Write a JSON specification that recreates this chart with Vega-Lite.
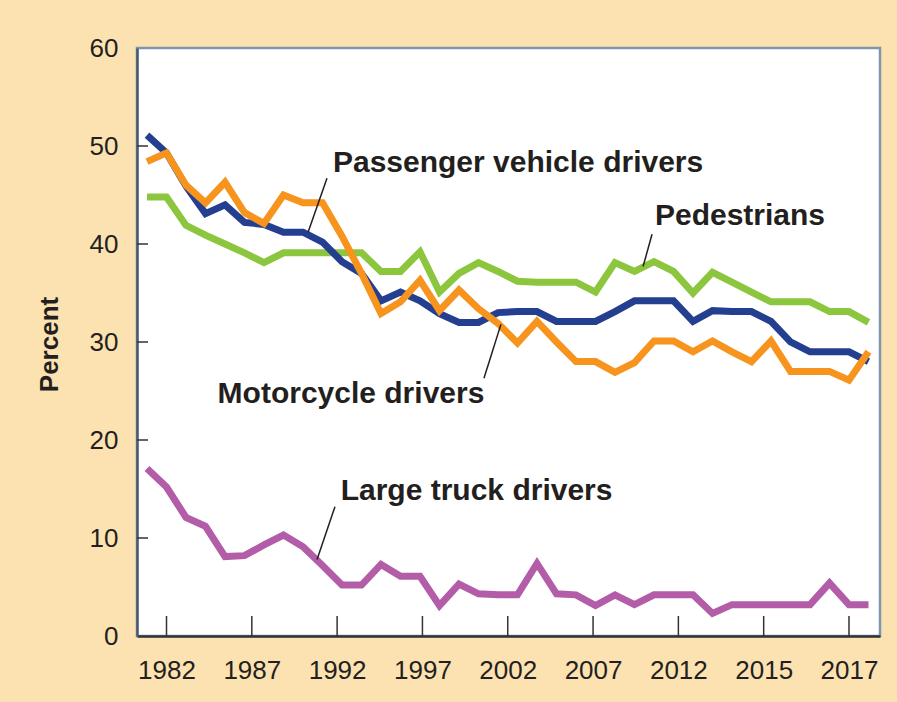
{
  "$schema": "https://vega.github.io/schema/vega-lite/v6.json",
  "description": "Percent of fatally injured drivers and pedestrians with high BAC, 1981-2018.",
  "width": 743,
  "height": 588,
  "autosize": {"type": "none"},
  "padding": {"left": 137, "top": 48, "right": 17, "bottom": 66},
  "background": "#FCE2B0",
  "config": {
    "view": {"fill": "white", "stroke": "#7E97B0", "strokeWidth": 2.5},
    "font": "Liberation Sans"
  },
  "layer": [
    {
      "data": {"values": [{"t": 1982}, {"t": 1986.375}, {"t": 1990.75}, {"t": 1995.125}, {"t": 1999.5}, {"t": 2003.875}, {"t": 2008.25}, {"t": 2012.625}, {"t": 2017}]},
      "mark": {"type": "rule", "color": "#333333", "strokeWidth": 1.5},
      "encoding": {
        "x": {"field": "t", "type": "quantitative", "title": null},
        "y": {"datum": 0, "type": "quantitative"},
        "y2": {"datum": 2.04}
      }
    },
    {
      "data": {"values": [{"v": 10}, {"v": 20}, {"v": 30}, {"v": 40}, {"v": 50}]},
      "mark": {"type": "rule", "color": "#333333", "strokeWidth": 1.5},
      "encoding": {
        "y": {"field": "v", "type": "quantitative", "title": "Percent"},
        "x": {"datum": 1980.487, "type": "quantitative"},
        "x2": {"datum": 1981.05}
      }
    },
    {
      "data": {
        "values": [
          {"year": 1981, "group": "Pedestrians", "pct": 44.8},
          {"year": 1982, "group": "Pedestrians", "pct": 44.8},
          {"year": 1983, "group": "Pedestrians", "pct": 41.9},
          {"year": 1984, "group": "Pedestrians", "pct": 40.9},
          {"year": 1985, "group": "Pedestrians", "pct": 40.0},
          {"year": 1986, "group": "Pedestrians", "pct": 39.1},
          {"year": 1987, "group": "Pedestrians", "pct": 38.1},
          {"year": 1988, "group": "Pedestrians", "pct": 39.1},
          {"year": 1989, "group": "Pedestrians", "pct": 39.1},
          {"year": 1990, "group": "Pedestrians", "pct": 39.1},
          {"year": 1991, "group": "Pedestrians", "pct": 39.1},
          {"year": 1992, "group": "Pedestrians", "pct": 39.1},
          {"year": 1993, "group": "Pedestrians", "pct": 37.2},
          {"year": 1994, "group": "Pedestrians", "pct": 37.2},
          {"year": 1995, "group": "Pedestrians", "pct": 39.2},
          {"year": 1996, "group": "Pedestrians", "pct": 35.1},
          {"year": 1997, "group": "Pedestrians", "pct": 37.0},
          {"year": 1998, "group": "Pedestrians", "pct": 38.1},
          {"year": 1999, "group": "Pedestrians", "pct": 37.2},
          {"year": 2000, "group": "Pedestrians", "pct": 36.2},
          {"year": 2001, "group": "Pedestrians", "pct": 36.1},
          {"year": 2002, "group": "Pedestrians", "pct": 36.1},
          {"year": 2003, "group": "Pedestrians", "pct": 36.1},
          {"year": 2004, "group": "Pedestrians", "pct": 35.1},
          {"year": 2005, "group": "Pedestrians", "pct": 38.1},
          {"year": 2006, "group": "Pedestrians", "pct": 37.2},
          {"year": 2007, "group": "Pedestrians", "pct": 38.2},
          {"year": 2008, "group": "Pedestrians", "pct": 37.2},
          {"year": 2009, "group": "Pedestrians", "pct": 35.0},
          {"year": 2010, "group": "Pedestrians", "pct": 37.1},
          {"year": 2011, "group": "Pedestrians", "pct": 36.1},
          {"year": 2012, "group": "Pedestrians", "pct": 35.1},
          {"year": 2013, "group": "Pedestrians", "pct": 34.1},
          {"year": 2014, "group": "Pedestrians", "pct": 34.1},
          {"year": 2015, "group": "Pedestrians", "pct": 34.1},
          {"year": 2016, "group": "Pedestrians", "pct": 33.1},
          {"year": 2017, "group": "Pedestrians", "pct": 33.1},
          {"year": 2018, "group": "Pedestrians", "pct": 32.0},
          {"year": 1981, "group": "Large truck drivers", "pct": 17.1},
          {"year": 1982, "group": "Large truck drivers", "pct": 15.2},
          {"year": 1983, "group": "Large truck drivers", "pct": 12.1},
          {"year": 1984, "group": "Large truck drivers", "pct": 11.2},
          {"year": 1985, "group": "Large truck drivers", "pct": 8.1},
          {"year": 1986, "group": "Large truck drivers", "pct": 8.2},
          {"year": 1987, "group": "Large truck drivers", "pct": 9.3},
          {"year": 1988, "group": "Large truck drivers", "pct": 10.3},
          {"year": 1989, "group": "Large truck drivers", "pct": 9.1},
          {"year": 1990, "group": "Large truck drivers", "pct": 7.2},
          {"year": 1991, "group": "Large truck drivers", "pct": 5.2},
          {"year": 1992, "group": "Large truck drivers", "pct": 5.2},
          {"year": 1993, "group": "Large truck drivers", "pct": 7.3},
          {"year": 1994, "group": "Large truck drivers", "pct": 6.1},
          {"year": 1995, "group": "Large truck drivers", "pct": 6.1},
          {"year": 1996, "group": "Large truck drivers", "pct": 3.1},
          {"year": 1997, "group": "Large truck drivers", "pct": 5.3},
          {"year": 1998, "group": "Large truck drivers", "pct": 4.3},
          {"year": 1999, "group": "Large truck drivers", "pct": 4.2},
          {"year": 2000, "group": "Large truck drivers", "pct": 4.2},
          {"year": 2001, "group": "Large truck drivers", "pct": 7.4},
          {"year": 2002, "group": "Large truck drivers", "pct": 4.3},
          {"year": 2003, "group": "Large truck drivers", "pct": 4.2},
          {"year": 2004, "group": "Large truck drivers", "pct": 3.1},
          {"year": 2005, "group": "Large truck drivers", "pct": 4.2},
          {"year": 2006, "group": "Large truck drivers", "pct": 3.2},
          {"year": 2007, "group": "Large truck drivers", "pct": 4.2},
          {"year": 2008, "group": "Large truck drivers", "pct": 4.2},
          {"year": 2009, "group": "Large truck drivers", "pct": 4.2},
          {"year": 2010, "group": "Large truck drivers", "pct": 2.3},
          {"year": 2011, "group": "Large truck drivers", "pct": 3.2},
          {"year": 2012, "group": "Large truck drivers", "pct": 3.2},
          {"year": 2013, "group": "Large truck drivers", "pct": 3.2},
          {"year": 2014, "group": "Large truck drivers", "pct": 3.2},
          {"year": 2015, "group": "Large truck drivers", "pct": 3.2},
          {"year": 2016, "group": "Large truck drivers", "pct": 5.4},
          {"year": 2017, "group": "Large truck drivers", "pct": 3.2},
          {"year": 2018, "group": "Large truck drivers", "pct": 3.2},
          {"year": 1981, "group": "Passenger vehicle drivers", "pct": 51.1},
          {"year": 1982, "group": "Passenger vehicle drivers", "pct": 49.3},
          {"year": 1983, "group": "Passenger vehicle drivers", "pct": 45.9},
          {"year": 1984, "group": "Passenger vehicle drivers", "pct": 43.1},
          {"year": 1985, "group": "Passenger vehicle drivers", "pct": 44.0},
          {"year": 1986, "group": "Passenger vehicle drivers", "pct": 42.2},
          {"year": 1987, "group": "Passenger vehicle drivers", "pct": 42.0},
          {"year": 1988, "group": "Passenger vehicle drivers", "pct": 41.2},
          {"year": 1989, "group": "Passenger vehicle drivers", "pct": 41.2},
          {"year": 1990, "group": "Passenger vehicle drivers", "pct": 40.2},
          {"year": 1991, "group": "Passenger vehicle drivers", "pct": 38.2},
          {"year": 1992, "group": "Passenger vehicle drivers", "pct": 37.0},
          {"year": 1993, "group": "Passenger vehicle drivers", "pct": 34.2},
          {"year": 1994, "group": "Passenger vehicle drivers", "pct": 35.1},
          {"year": 1995, "group": "Passenger vehicle drivers", "pct": 34.2},
          {"year": 1996, "group": "Passenger vehicle drivers", "pct": 32.9},
          {"year": 1997, "group": "Passenger vehicle drivers", "pct": 32.0},
          {"year": 1998, "group": "Passenger vehicle drivers", "pct": 32.0},
          {"year": 1999, "group": "Passenger vehicle drivers", "pct": 33.0},
          {"year": 2000, "group": "Passenger vehicle drivers", "pct": 33.1},
          {"year": 2001, "group": "Passenger vehicle drivers", "pct": 33.1},
          {"year": 2002, "group": "Passenger vehicle drivers", "pct": 32.1},
          {"year": 2003, "group": "Passenger vehicle drivers", "pct": 32.1},
          {"year": 2004, "group": "Passenger vehicle drivers", "pct": 32.1},
          {"year": 2005, "group": "Passenger vehicle drivers", "pct": 33.1},
          {"year": 2006, "group": "Passenger vehicle drivers", "pct": 34.2},
          {"year": 2007, "group": "Passenger vehicle drivers", "pct": 34.2},
          {"year": 2008, "group": "Passenger vehicle drivers", "pct": 34.2},
          {"year": 2009, "group": "Passenger vehicle drivers", "pct": 32.1},
          {"year": 2010, "group": "Passenger vehicle drivers", "pct": 33.2},
          {"year": 2011, "group": "Passenger vehicle drivers", "pct": 33.1},
          {"year": 2012, "group": "Passenger vehicle drivers", "pct": 33.1},
          {"year": 2013, "group": "Passenger vehicle drivers", "pct": 32.1},
          {"year": 2014, "group": "Passenger vehicle drivers", "pct": 30.0},
          {"year": 2015, "group": "Passenger vehicle drivers", "pct": 29.0},
          {"year": 2016, "group": "Passenger vehicle drivers", "pct": 29.0},
          {"year": 2017, "group": "Passenger vehicle drivers", "pct": 29.0},
          {"year": 2018, "group": "Passenger vehicle drivers", "pct": 28.0},
          {"year": 1981, "group": "Motorcycle drivers", "pct": 48.4},
          {"year": 1982, "group": "Motorcycle drivers", "pct": 49.3},
          {"year": 1983, "group": "Motorcycle drivers", "pct": 46.0},
          {"year": 1984, "group": "Motorcycle drivers", "pct": 44.2},
          {"year": 1985, "group": "Motorcycle drivers", "pct": 46.3},
          {"year": 1986, "group": "Motorcycle drivers", "pct": 43.2},
          {"year": 1987, "group": "Motorcycle drivers", "pct": 42.1},
          {"year": 1988, "group": "Motorcycle drivers", "pct": 45.0},
          {"year": 1989, "group": "Motorcycle drivers", "pct": 44.2},
          {"year": 1990, "group": "Motorcycle drivers", "pct": 44.2},
          {"year": 1991, "group": "Motorcycle drivers", "pct": 40.8},
          {"year": 1992, "group": "Motorcycle drivers", "pct": 37.0},
          {"year": 1993, "group": "Motorcycle drivers", "pct": 32.9},
          {"year": 1994, "group": "Motorcycle drivers", "pct": 34.1},
          {"year": 1995, "group": "Motorcycle drivers", "pct": 36.3},
          {"year": 1996, "group": "Motorcycle drivers", "pct": 33.2},
          {"year": 1997, "group": "Motorcycle drivers", "pct": 35.3},
          {"year": 1998, "group": "Motorcycle drivers", "pct": 33.4},
          {"year": 1999, "group": "Motorcycle drivers", "pct": 31.9},
          {"year": 2000, "group": "Motorcycle drivers", "pct": 29.9},
          {"year": 2001, "group": "Motorcycle drivers", "pct": 32.1},
          {"year": 2002, "group": "Motorcycle drivers", "pct": 30.0},
          {"year": 2003, "group": "Motorcycle drivers", "pct": 28.0},
          {"year": 2004, "group": "Motorcycle drivers", "pct": 28.0},
          {"year": 2005, "group": "Motorcycle drivers", "pct": 26.9},
          {"year": 2006, "group": "Motorcycle drivers", "pct": 27.9},
          {"year": 2007, "group": "Motorcycle drivers", "pct": 30.1},
          {"year": 2008, "group": "Motorcycle drivers", "pct": 30.1},
          {"year": 2009, "group": "Motorcycle drivers", "pct": 29.0},
          {"year": 2010, "group": "Motorcycle drivers", "pct": 30.1},
          {"year": 2011, "group": "Motorcycle drivers", "pct": 29.0},
          {"year": 2012, "group": "Motorcycle drivers", "pct": 28.0},
          {"year": 2013, "group": "Motorcycle drivers", "pct": 30.1},
          {"year": 2014, "group": "Motorcycle drivers", "pct": 27.0},
          {"year": 2015, "group": "Motorcycle drivers", "pct": 27.0},
          {"year": 2016, "group": "Motorcycle drivers", "pct": 27.0},
          {"year": 2017, "group": "Motorcycle drivers", "pct": 26.1},
          {"year": 2018, "group": "Motorcycle drivers", "pct": 29.0}
        ]
      },
      "mark": {"type": "line", "strokeWidth": 7},
      "encoding": {
        "x": {
          "field": "year",
          "type": "quantitative",
          "scale": {"domain": [1980.487, 2018.59], "nice": false, "zero": false},
          "axis": {
            "title": null,
            "values": [1982, 1986.375, 1990.75, 1995.125, 1999.5, 2003.875, 2008.25, 2012.625, 2017],
            "labelExpr": "datum.value < 1984 ? '1982' : datum.value < 1988 ? '1987' : datum.value < 1993 ? '1992' : datum.value < 1997 ? '1997' : datum.value < 2001 ? '2002' : datum.value < 2006 ? '2007' : datum.value < 2010 ? '2012' : datum.value < 2015 ? '2015' : '2017'",
            "grid": false,
            "ticks": false,
            "domainColor": "#333333",
            "domainWidth": 2.5,
            "labelPadding": 21,
            "labelFontSize": 26,
            "labelColor": "#231f20",
            "labelFlush": false,
            "labelOverlap": false
          }
        },
        "y": {
          "field": "pct",
          "type": "quantitative",
          "scale": {"domain": [0, 60], "nice": false},
          "axis": {
            "title": "Percent",
            "values": [0, 10, 20, 30, 40, 50, 60],
            "grid": false,
            "ticks": false,
            "domainColor": "#4b5a6b",
            "domainWidth": 2.5,
            "labelPadding": 19,
            "labelFontSize": 26,
            "labelColor": "#231f20",
            "labelFlush": false,
            "titleFontSize": 26,
            "titleFontWeight": "bold",
            "titleColor": "#231f20",
            "titleAngle": -90,
            "titleAlign": "center",
            "titleBaseline": "alphabetic",
            "titleX": -80,
            "titleY": 296
          }
        },
        "color": {
          "field": "group",
          "type": "nominal",
          "scale": {
            "domain": ["Pedestrians", "Large truck drivers", "Passenger vehicle drivers", "Motorcycle drivers"],
            "range": ["#8CC63F", "#B35DA8", "#243F8F", "#F7941E"]
          },
          "legend": null
        }
      }
    },
    {
      "data": {"values": [{}]},
      "mark": {"type": "rule", "color": "#231f20", "strokeWidth": 1.5},
      "encoding": {
        "x": {"datum": 1990.23, "type": "quantitative"},
        "y": {"datum": 46.7, "type": "quantitative"},
        "x2": {"datum": 1989.26},
        "y2": {"datum": 41.2}
      }
    },
    {
      "data": {"values": [{}]},
      "mark": {"type": "rule", "color": "#231f20", "strokeWidth": 1.5},
      "encoding": {
        "x": {"datum": 2006.9, "type": "quantitative"},
        "y": {"datum": 41.0, "type": "quantitative"},
        "x2": {"datum": 2006.44},
        "y2": {"datum": 37.7}
      }
    },
    {
      "data": {"values": [{}]},
      "mark": {"type": "rule", "color": "#231f20", "strokeWidth": 1.5},
      "encoding": {
        "x": {"datum": 1999.15, "type": "quantitative"},
        "y": {"datum": 31.8, "type": "quantitative"},
        "x2": {"datum": 1998.28},
        "y2": {"datum": 26.3}
      }
    },
    {
      "data": {"values": [{}]},
      "mark": {"type": "rule", "color": "#231f20", "strokeWidth": 1.5},
      "encoding": {
        "x": {"datum": 1990.64, "type": "quantitative"},
        "y": {"datum": 13.2, "type": "quantitative"},
        "x2": {"datum": 1989.72},
        "y2": {"datum": 7.8}
      }
    },
    {
      "data": {"values": [{}]},
      "mark": {"type": "text", "text": "Passenger vehicle drivers", "fontSize": 30, "fontWeight": "bold", "color": "#231f20", "align": "center", "baseline": "alphabetic"},
      "encoding": {
        "x": {"datum": 2000.03, "type": "quantitative"},
        "y": {"datum": 47.3, "type": "quantitative"}
      }
    },
    {
      "data": {"values": [{}]},
      "mark": {"type": "text", "text": "Pedestrians", "fontSize": 30, "fontWeight": "bold", "color": "#231f20", "align": "center", "baseline": "alphabetic"},
      "encoding": {
        "x": {"datum": 2011.41, "type": "quantitative"},
        "y": {"datum": 41.9, "type": "quantitative"}
      }
    },
    {
      "data": {"values": [{}]},
      "mark": {"type": "text", "text": "Motorcycle drivers", "fontSize": 30, "fontWeight": "bold", "color": "#231f20", "align": "center", "baseline": "alphabetic"},
      "encoding": {
        "x": {"datum": 1991.46, "type": "quantitative"},
        "y": {"datum": 23.8, "type": "quantitative"}
      }
    },
    {
      "data": {"values": [{}]},
      "mark": {"type": "text", "text": "Large truck drivers", "fontSize": 30, "fontWeight": "bold", "color": "#231f20", "align": "center", "baseline": "alphabetic"},
      "encoding": {
        "x": {"datum": 1997.9, "type": "quantitative"},
        "y": {"datum": 13.9, "type": "quantitative"}
      }
    }
  ]
}
